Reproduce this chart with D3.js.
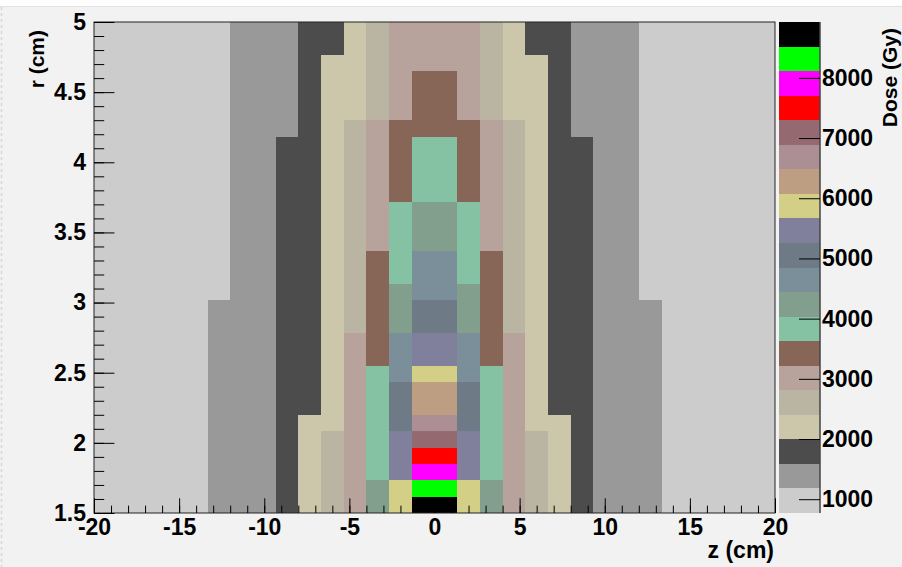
<!DOCTYPE html>
<html>
<head>
<meta charset="utf-8">
<script src="https://cdn.jsdelivr.net/npm/d3@7"></script>
<style>
  html, body { margin: 0; padding: 0; background: #f2f2f2; }
  svg { display: block; }
  text { font-family: "Liberation Sans", Arial, Helvetica, sans-serif; font-weight: bold; fill: #000; }
</style>
</head>
<body>
<svg id="chart" width="902" height="567"></svg>
<script>
// Axis definitions of the dose map (histogram bins along z and r)
const zLimits = [-20, 20];        // cm
const rLimits = [1.5, 5];         // cm
const zBinCount = 30;
const rBinCount = 30;

const zTicks = [-20, -15, -10, -5, 0, 5, 10, 15, 20];
const rTicks = [1.5, 2, 2.5, 3, 3.5, 4, 4.5, 5];
const doseTicks = [1000, 2000, 3000, 4000, 5000, 6000, 7000, 8000];

// Colour axis limits (Gy) and the 20-step palette, lowest dose first
const doseLimits = [771, 8928];
const paletteColors = [
  "#cccccc", "#999999", "#4c4c4c", "#ccc7ab", "#bab5a3",
  "#b8a39c", "#876657", "#85c2a3", "#829e8c", "#7a8f99",
  "#6e7a85", "#80809c", "#d4cf87", "#bd9e82", "#ab8f94",
  "#946970", "#ff0000", "#ff00ff", "#00ff00", "#000000"
];

// Dose per bin (Gy); rows run from r = 5 cm (first) down to r = 1.5 cm (last),
// columns from z = -20 cm to z = +20 cm
const doseRows = [
  [1000,1000,1000,1000,1000,1000,1400,1400,1400,1800,1800,2200,2600,3000,3000,3000,3000,2600,2200,1800,1800,1400,1400,1400,1000,1000,1000,1000,1000,1000],
  [1000,1000,1000,1000,1000,1000,1400,1400,1400,1800,1800,2200,2600,3000,3000,3000,3000,2600,2200,1800,1800,1400,1400,1400,1000,1000,1000,1000,1000,1000],
  [1000,1000,1000,1000,1000,1000,1400,1400,1400,1800,2200,2200,2600,3000,3000,3000,3000,2600,2200,2200,1800,1400,1400,1400,1000,1000,1000,1000,1000,1000],
  [1000,1000,1000,1000,1000,1000,1400,1400,1400,1800,2200,2200,2600,3000,3400,3400,3000,2600,2200,2200,1800,1400,1400,1400,1000,1000,1000,1000,1000,1000],
  [1000,1000,1000,1000,1000,1000,1400,1400,1400,1800,2200,2200,2600,3000,3400,3400,3000,2600,2200,2200,1800,1400,1400,1400,1000,1000,1000,1000,1000,1000],
  [1000,1000,1000,1000,1000,1000,1400,1400,1400,1800,2200,2200,2600,3000,3400,3400,3000,2600,2200,2200,1800,1400,1400,1400,1000,1000,1000,1000,1000,1000],
  [1000,1000,1000,1000,1000,1000,1400,1400,1400,1800,2200,2600,3000,3400,3400,3400,3400,3000,2600,2200,1800,1400,1400,1400,1000,1000,1000,1000,1000,1000],
  [1000,1000,1000,1000,1000,1000,1400,1400,1800,1800,2200,2600,3000,3400,3800,3800,3400,3000,2600,2200,1800,1800,1400,1400,1000,1000,1000,1000,1000,1000],
  [1000,1000,1000,1000,1000,1000,1400,1400,1800,1800,2200,2600,3000,3400,3800,3800,3400,3000,2600,2200,1800,1800,1400,1400,1000,1000,1000,1000,1000,1000],
  [1000,1000,1000,1000,1000,1000,1400,1400,1800,1800,2200,2600,3000,3400,3800,3800,3400,3000,2600,2200,1800,1800,1400,1400,1000,1000,1000,1000,1000,1000],
  [1000,1000,1000,1000,1000,1000,1400,1400,1800,1800,2200,2600,3000,3400,3800,3800,3400,3000,2600,2200,1800,1800,1400,1400,1000,1000,1000,1000,1000,1000],
  [1000,1000,1000,1000,1000,1000,1400,1400,1800,1800,2200,2600,3000,3800,4250,4250,3800,3000,2600,2200,1800,1800,1400,1400,1000,1000,1000,1000,1000,1000],
  [1000,1000,1000,1000,1000,1000,1400,1400,1800,1800,2200,2600,3000,3800,4250,4250,3800,3000,2600,2200,1800,1800,1400,1400,1000,1000,1000,1000,1000,1000],
  [1000,1000,1000,1000,1000,1000,1400,1400,1800,1800,2200,2600,3000,3800,4250,4250,3800,3000,2600,2200,1800,1800,1400,1400,1000,1000,1000,1000,1000,1000],
  [1000,1000,1000,1000,1000,1000,1400,1400,1800,1800,2200,2600,3400,3800,4650,4650,3800,3400,2600,2200,1800,1800,1400,1400,1000,1000,1000,1000,1000,1000],
  [1000,1000,1000,1000,1000,1000,1400,1400,1800,1800,2200,2600,3400,3800,4650,4650,3800,3400,2600,2200,1800,1800,1400,1400,1000,1000,1000,1000,1000,1000],
  [1000,1000,1000,1000,1000,1000,1400,1400,1800,1800,2200,2600,3400,4250,4650,4650,4250,3400,2600,2200,1800,1800,1400,1400,1000,1000,1000,1000,1000,1000],
  [1000,1000,1000,1000,1000,1400,1400,1400,1800,1800,2200,2600,3400,4250,5050,5050,4250,3400,2600,2200,1800,1800,1400,1400,1400,1000,1000,1000,1000,1000],
  [1000,1000,1000,1000,1000,1400,1400,1400,1800,1800,2200,2600,3400,4250,5050,5050,4250,3400,2600,2200,1800,1800,1400,1400,1400,1000,1000,1000,1000,1000],
  [1000,1000,1000,1000,1000,1400,1400,1400,1800,1800,2200,3000,3400,4650,5450,5450,4650,3400,3000,2200,1800,1800,1400,1400,1400,1000,1000,1000,1000,1000],
  [1000,1000,1000,1000,1000,1400,1400,1400,1800,1800,2200,3000,3400,4650,5450,5450,4650,3400,3000,2200,1800,1800,1400,1400,1400,1000,1000,1000,1000,1000],
  [1000,1000,1000,1000,1000,1400,1400,1400,1800,1800,2200,3000,3800,4650,5900,5900,4650,3800,3000,2200,1800,1800,1400,1400,1400,1000,1000,1000,1000,1000],
  [1000,1000,1000,1000,1000,1400,1400,1400,1800,1800,2200,3000,3800,5050,6300,6300,5050,3800,3000,2200,1800,1800,1400,1400,1400,1000,1000,1000,1000,1000],
  [1000,1000,1000,1000,1000,1400,1400,1400,1800,1800,2200,3000,3800,5050,6300,6300,5050,3800,3000,2200,1800,1800,1400,1400,1400,1000,1000,1000,1000,1000],
  [1000,1000,1000,1000,1000,1400,1400,1400,1800,2200,2200,3000,3800,5050,6700,6700,5050,3800,3000,2200,2200,1800,1400,1400,1400,1000,1000,1000,1000,1000],
  [1000,1000,1000,1000,1000,1400,1400,1400,1800,2200,2600,3000,3800,5450,7100,7100,5450,3800,3000,2600,2200,1800,1400,1400,1400,1000,1000,1000,1000,1000],
  [1000,1000,1000,1000,1000,1400,1400,1400,1800,2200,2600,3000,3800,5450,7500,7500,5450,3800,3000,2600,2200,1800,1400,1400,1400,1000,1000,1000,1000,1000],
  [1000,1000,1000,1000,1000,1400,1400,1400,1800,2200,2600,3000,3800,5450,7900,7900,5450,3800,3000,2600,2200,1800,1400,1400,1400,1000,1000,1000,1000,1000],
  [1000,1000,1000,1000,1000,1400,1400,1400,1800,2200,2600,3000,4250,5900,8300,8300,5900,4250,3000,2600,2200,1800,1400,1400,1400,1000,1000,1000,1000,1000],
  [1000,1000,1000,1000,1000,1400,1400,1400,1800,2200,2600,3000,4250,5900,8900,8900,5900,4250,3000,2600,2200,1800,1400,1400,1400,1000,1000,1000,1000,1000]
];

// ---- layout ----
const W = 902, H = 567;
const frame = { left: 94, right: 775, top: 22, bottom: 513 };
const bar = { left: 779, right: 820 };
const labelSize = 23;
const titleSize = 21;

const svg = d3.select("#chart");

// pad background with a white strip along the top edge
svg.append("rect").attr("x", 0).attr("y", 0).attr("width", W).attr("height", H).attr("fill", "#f2f2f2");
svg.append("rect").attr("x", 0).attr("y", 0).attr("width", W).attr("height", 6).attr("fill", "#ffffff");
svg.append("line").attr("x1", 0).attr("x2", W).attr("y1", 6.5).attr("y2", 6.5)
  .attr("stroke", "#e2e2e2").attr("stroke-width", 1);
svg.append("line").attr("x1", 1.5).attr("x2", 1.5).attr("y1", 7).attr("y2", H)
  .attr("stroke", "#d8d8d8").attr("stroke-width", 1.5).attr("stroke-dasharray", "3,3");

const x = d3.scaleLinear().domain(zLimits).range([frame.left, frame.right]);
const y = d3.scaleLinear().domain(rLimits).range([frame.bottom, frame.top]);
const color = d3.scaleQuantize().domain(doseLimits).range(paletteColors);

const dz = (zLimits[1] - zLimits[0]) / zBinCount;
const dr = (rLimits[1] - rLimits[0]) / rBinCount;

// flatten the dose table into bins
const bins = [];
doseRows.forEach((row, i) => {
  const rLow = rLimits[1] - (i + 1) * dr;
  row.forEach((dose, j) => {
    const zLow = zLimits[0] + j * dz;
    bins.push({ z0: zLow, z1: zLow + dz, r0: rLow, r1: rLow + dr, dose });
  });
});

svg.append("g").attr("class", "cells")
  .selectAll("rect").data(bins).join("rect")
  .attr("x", d => x(d.z0))
  .attr("y", d => y(d.r1))
  .attr("width", d => x(d.z1) - x(d.z0))
  .attr("height", d => y(d.r0) - y(d.r1))
  .attr("fill", d => color(d.dose))
  .attr("shape-rendering", "crispEdges");

// frame border
svg.append("rect")
  .attr("x", frame.left).attr("y", frame.top)
  .attr("width", frame.right - frame.left).attr("height", frame.bottom - frame.top)
  .attr("fill", "none").attr("stroke", "#222").attr("stroke-width", 1);

// ---- axes ----
const frameW = frame.right - frame.left, frameH = frame.bottom - frame.top;
const xMajorLen = 0.03 * frameH, yMajorLen = 0.03 * frameW;

const zMinor = d3.range(zLimits[0], zLimits[1] + 0.001, 1);
const rMinor = d3.range(0, 36).map(k => +(rLimits[0] + k * 0.1).toFixed(2));
const plain = d => String(d);   // ASCII hyphen for negatives

function styleAxis(g) {
  g.select(".domain").remove();
  g.selectAll("line").attr("stroke", "#000").attr("stroke-width", 1);
  g.selectAll("text").attr("font-size", labelSize).attr("font-family", null);
}

svg.append("g").attr("transform", `translate(0,${frame.bottom})`)
  .call(d3.axisBottom(x).tickValues(zMinor).tickSize(-xMajorLen / 2).tickFormat(""))
  .call(styleAxis);
svg.append("g").attr("transform", `translate(0,${frame.bottom})`)
  .call(d3.axisBottom(x).tickValues(zTicks).tickSize(-xMajorLen).tickPadding(6).tickFormat(plain))
  .call(styleAxis);

svg.append("g").attr("transform", `translate(${frame.left},0)`)
  .call(d3.axisLeft(y).tickValues(rMinor).tickSize(-yMajorLen / 2).tickFormat(""))
  .call(styleAxis);
svg.append("g").attr("transform", `translate(${frame.left},0)`)
  .call(d3.axisLeft(y).tickValues(rTicks).tickSize(-yMajorLen).tickPadding(8).tickFormat(plain))
  .call(styleAxis);

// axis titles
svg.append("text").attr("x", frame.right - 1).attr("y", 558)
  .attr("text-anchor", "end").attr("font-size", 23).text("z (cm)");
svg.append("text").attr("transform", `translate(44,${frame.top + 8}) rotate(-90)`)
  .attr("text-anchor", "end").attr("font-size", titleSize).text("r (cm)");

// ---- colour bar ----
const yDose = d3.scaleLinear().domain(doseLimits).range([frame.bottom, frame.top]);
const step = (doseLimits[1] - doseLimits[0]) / paletteColors.length;
svg.append("g").attr("class", "palette")
  .selectAll("rect").data(paletteColors).join("rect")
  .attr("x", bar.left)
  .attr("width", bar.right - bar.left)
  .attr("y", (c, k) => yDose(doseLimits[0] + (k + 1) * step))
  .attr("height", (c, k) => yDose(doseLimits[0] + k * step) - yDose(doseLimits[0] + (k + 1) * step))
  .attr("fill", c => c)
  .attr("shape-rendering", "crispEdges");

svg.append("line").attr("x1", bar.right).attr("x2", bar.right)
  .attr("y1", frame.top).attr("y2", frame.bottom)
  .attr("stroke", "#444").attr("stroke-width", 1.5);

svg.append("g").attr("transform", `translate(${bar.right},0)`)
  .call(d3.axisRight(yDose).tickValues(doseTicks).tickSizeInner(-21).tickSizeOuter(0).tickPadding(2)
    .tickFormat(plain))
  .call(styleAxis);

svg.append("text").attr("transform", `translate(897,${frame.top + 6}) rotate(-90)`)
  .attr("text-anchor", "end").attr("font-size", titleSize).text("Dose (Gy)");
</script>
</body>
</html>
